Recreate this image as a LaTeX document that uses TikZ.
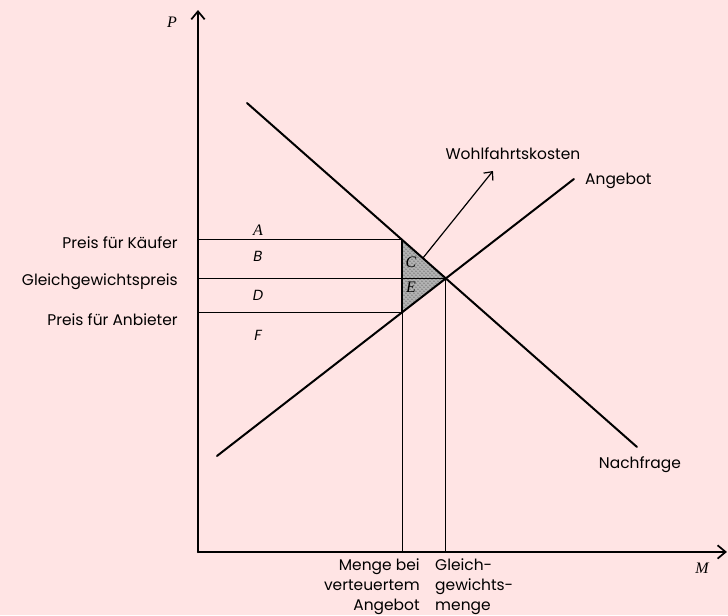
\documentclass[tikz,border=0pt]{standalone}
\usepackage{fontspec}
\setmainfont{Poppins}
\newfontfamily\timesit{Liberation Serif}
\usetikzlibrary{arrows.meta,patterns}
\definecolor{bgpink}{RGB}{255,228,228}
\begin{document}
\begin{tikzpicture}[
  x=0.75pt,y=-0.75pt,
  line cap=round,
  line join=round,
  axis/.style={draw=black,line width=1.6pt,-{Straight Barb[length=6pt,width=10pt,line width=1.3pt]}},
  curve/.style={draw=black,line width=1.5pt},
  guide/.style={draw=black,line width=0.6pt},
  lbl/.style={font=\fontsize{11.6}{15}\selectfont,inner sep=0pt},
  area/.style={font=\fontsize{11}{13}\selectfont\itshape,inner sep=0pt},
  mathlbl/.style={font=\fontsize{12}{14}\timesit\itshape,inner sep=0pt}
]

% background
\fill[bgpink] (0,0) rectangle (728,615);

% key points
\coordinate (O) at (198,552);
\coordinate (Ptop) at (198,10);
\coordinate (Mend) at (727,552);
\coordinate (D1) at (247,103);
\coordinate (D2) at (637,447);
\coordinate (S1) at (217,456);
\coordinate (S2) at (574,179);
\coordinate (Eq) at (445.8,278.3);
\coordinate (K) at (402,239.7);
\coordinate (An) at (402,312.3);

% welfare loss triangle
\fill[black!30] (K) -- (Eq) -- (An) -- cycle;
\fill[pattern=crosshatch dots,pattern color=black!60] (K) -- (Eq) -- (An) -- cycle;

% price and quantity guides
\draw[guide] (O |- K) -- (K);
\draw[guide] (O |- Eq) -- (Eq);
\draw[guide] (O |- An) -- (An);
\draw[guide] (K) -- (K |- O);
\draw[guide] (Eq) -- (Eq |- O);

% demand and supply
\draw[curve] (D1) -- (D2);
\draw[curve] (S1) -- (S2);
\draw[curve] (K) -- (An);

% axes
\draw[axis] (O) -- (Ptop);
\draw[axis] (O) -- (Mend);
\node[mathlbl] (P) at (172,22) {P};
\node[mathlbl] (M) at (702,568) {M};

% welfare cost arrow
\coordinate (W0) at (423,258);
\coordinate (W1) at (493,171);
\draw[guide,line width=0.9pt,-{Straight Barb[length=5pt,width=9pt,line width=0.9pt]}] (W0) -- (W1);
\node[lbl] (wk) at (513,154) {Wohlfahrtskosten};

% curve labels
\node[lbl,anchor=west] (ang) at (585,181) {Angebot};
\node[lbl] (nach) at (640,465) {Nachfrage};

% price labels
\node[lbl,anchor=east] (pk) at (178,243) {Preis für Käufer};
\node[lbl,anchor=east] (pg) at (178,282) {Gleichgewichtspreis};
\node[lbl,anchor=east] (pa) at (178,320) {Preis für Anbieter};

% areas
\node[mathlbl] (a) at (258,230) {A};
\node[area] (b) at (258,256) {B};
\node[area] (d) at (258,295) {D};
\node[area] (f) at (258,335) {F};
\node[mathlbl] (c) at (411,262) {C};
\node[mathlbl] (e) at (411,287) {E};

% quantity labels
\node[lbl,align=right,anchor=north east] (mv) at (420,559) {Menge bei\\verteuertem\\Angebot};
\node[lbl,align=left,anchor=north west] (mg) at (435,559) {Gleich-\\gewichts-\\menge};

\end{tikzpicture}
\end{document}
